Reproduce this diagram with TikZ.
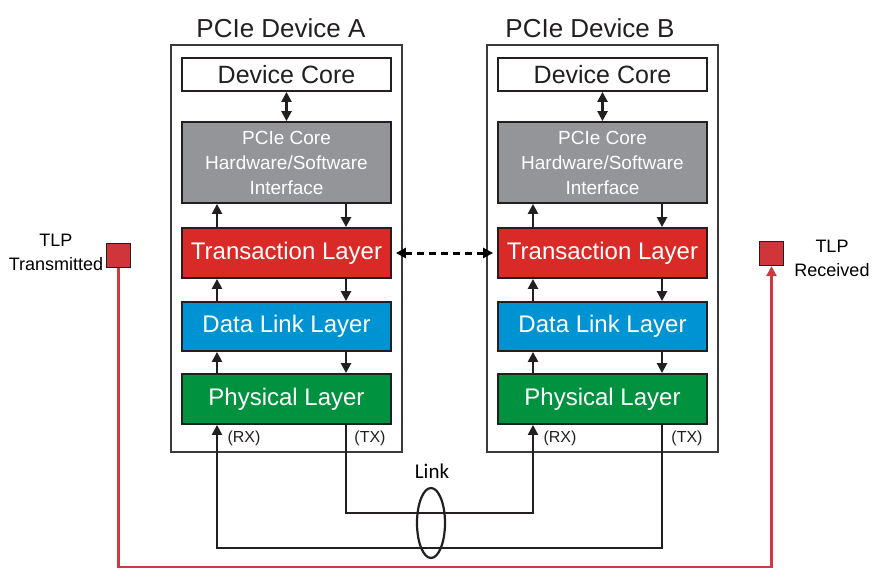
\documentclass[tikz,border=0pt]{standalone}
\usepackage{fontspec}
\setmainfont{Liberation Sans}
\newfontfamily\linkfont{Carlito}
\usetikzlibrary{arrows.meta,calc,shapes.geometric}
\definecolor{ink}{HTML}{231F20}
\definecolor{coregray}{HTML}{939598}
\definecolor{trred}{HTML}{D92A27}
\definecolor{dlblue}{HTML}{0093D3}
\definecolor{phgreen}{HTML}{00923F}
\definecolor{tlpred}{HTML}{CF3539}
\definecolor{wirered}{HTML}{D0393D}
\definecolor{framegray}{HTML}{3A3A3A}
\tikzset{
  tip/.tip={Triangle[length=10pt,width=10pt]},
  devframe/.style={draw=framegray, line width=1.6pt, minimum width=231pt, minimum height=407pt, inner sep=0pt},
  layerbox/.style={draw=ink, line width=1.8pt, minimum width=209pt, inner sep=0pt, text=white, font=\fontsize{24}{28}\selectfont},
  devcore/.style={layerbox, fill=white, text=ink, minimum height=33pt, font=\fontsize{25}{28}\selectfont},
  pciecore/.style={layerbox, fill=coregray, minimum height=81pt, align=center, font=\fontsize{19}{25}\selectfont},
  translayer/.style={layerbox, fill=trred, minimum height=50pt},
  dllayer/.style={layerbox, fill=dlblue, minimum height=49pt},
  phylayer/.style={layerbox, fill=phgreen, minimum height=50pt},
  title/.style={font=\fontsize{26}{28}\selectfont, text=ink},
  portlbl/.style={font=\fontsize{16}{16}\selectfont, text=ink},
  tlptext/.style={font=\fontsize{18}{24}\selectfont, align=center, text=black},
  tlpsq/.style={draw=ink, line width=1.2pt, fill=tlpred, minimum width=24pt, minimum height=24pt, inner sep=0pt},
  flow/.style={draw=ink, line width=2.3pt, -tip},
  biflow/.style={draw=ink, line width=2.3pt, tip-tip},
  wire/.style={draw=ink, line width=2.2pt},
  redwire/.style={draw=wirered, line width=2.5pt},
  peer/.style={draw=black, line width=3pt, dash pattern=on 7pt off 5pt, tip-tip}
}
\begin{document}
\begin{tikzpicture}[x=1pt,y=-1pt]
\useasboundingbox (0,0) rectangle (879,587);

% device frames and titles
\node[devframe] (frA) at (286.5,248.5) {};
\node[devframe] (frB) at (602.5,248.5) {};
\node[title] (ttlA) at (281,28) {PCIe Device A};
\node[title] (ttlB) at (590,28) {PCIe Device B};

% device A stack
\node[devcore] (dcA) at (286.5,74.5) {Device Core};
\node[pciecore] (pcA) at (286.5,162.5) {PCIe Core\\Hardware/Software\\Interface};
\node[translayer] (trA) at (286.5,253) {Transaction Layer};
\node[dllayer] (dlA) at (286.5,326.5) {Data Link Layer};
\node[phylayer] (phA) at (286.5,399) {Physical Layer};

% device B stack
\node[devcore] (dcB) at (602.5,74.5) {Device Core};
\node[pciecore] (pcB) at (602.5,162.5) {PCIe Core\\Hardware/Software\\Interface};
\node[translayer] (trB) at (602.5,253) {Transaction Layer};
\node[dllayer] (dlB) at (602.5,326.5) {Data Link Layer};
\node[phylayer] (phB) at (602.5,399) {Physical Layer};

% column coordinates
\coordinate (aL) at (217,0);
\coordinate (aR) at (346,0);
\coordinate (bL) at (533,0);
\coordinate (bR) at (662,0);

% vertical arrows A
\draw[biflow] (dcA.south) -- (pcA.north);
\draw[flow] (trA.north -| aL) -- (pcA.south -| aL);
\draw[flow] (pcA.south -| aR) -- (trA.north -| aR);
\draw[flow] (dlA.north -| aL) -- (trA.south -| aL);
\draw[flow] (trA.south -| aR) -- (dlA.north -| aR);
\draw[flow] (phA.north -| aL) -- (dlA.south -| aL);
\draw[flow] (dlA.south -| aR) -- (phA.north -| aR);

% vertical arrows B
\draw[biflow] (dcB.south) -- (pcB.north);
\draw[flow] (trB.north -| bL) -- (pcB.south -| bL);
\draw[flow] (pcB.south -| bR) -- (trB.north -| bR);
\draw[flow] (dlB.north -| bL) -- (trB.south -| bL);
\draw[flow] (trB.south -| bR) -- (dlB.north -| bR);
\draw[flow] (phB.north -| bL) -- (dlB.south -| bL);
\draw[flow] (dlB.south -| bR) -- (phB.north -| bR);

% peer dashed arrow
\draw[peer] ([xshift=4pt]trA.east) -- ([xshift=-4pt]trB.west);

% port labels
\node[portlbl] (rxA) at (244,438) {(RX)};
\node[portlbl] (txA) at (370,438) {(TX)};
\node[portlbl] (rxB) at (560,438) {(RX)};
\node[portlbl] (txB) at (687,438) {(TX)};

% link wiring
\coordinate (yTop) at (0,513);
\coordinate (yBot) at (0,548);
\draw[wire, -tip] (phA.south -| aR) -- (aR |- yTop) -- (bL |- yTop) -- (phB.south -| bL);
\draw[wire, -tip] (phB.south -| bR) -- (bR |- yBot) -- (aL |- yBot) -- (phA.south -| aL);
\node[draw=ink, line width=2.2pt, ellipse, minimum width=28pt, minimum height=70pt, inner sep=0pt] (ring) at (431,523) {};
\node[font=\linkfont\fontsize{21}{22}\selectfont, text=black] (lnk) at (432,471) {Link};

% TLP markers
\node[tlpsq] (sqT) at (118.5,255.5) {};
\node[tlpsq] (sqR) at (771.5,253.5) {};
\node[tlptext] (lblT) at (56,252) {TLP\\Transmitted};
\node[tlptext] (lblR) at (832,258) {TLP\\Received};
\coordinate (yRed) at (0,567);
\draw[redwire, -{Triangle[length=10pt,width=10pt]}] (sqT.south) -- (sqT.south |- yRed) -- (sqR.south |- yRed) -- (sqR.south);
\end{tikzpicture}
\end{document}
